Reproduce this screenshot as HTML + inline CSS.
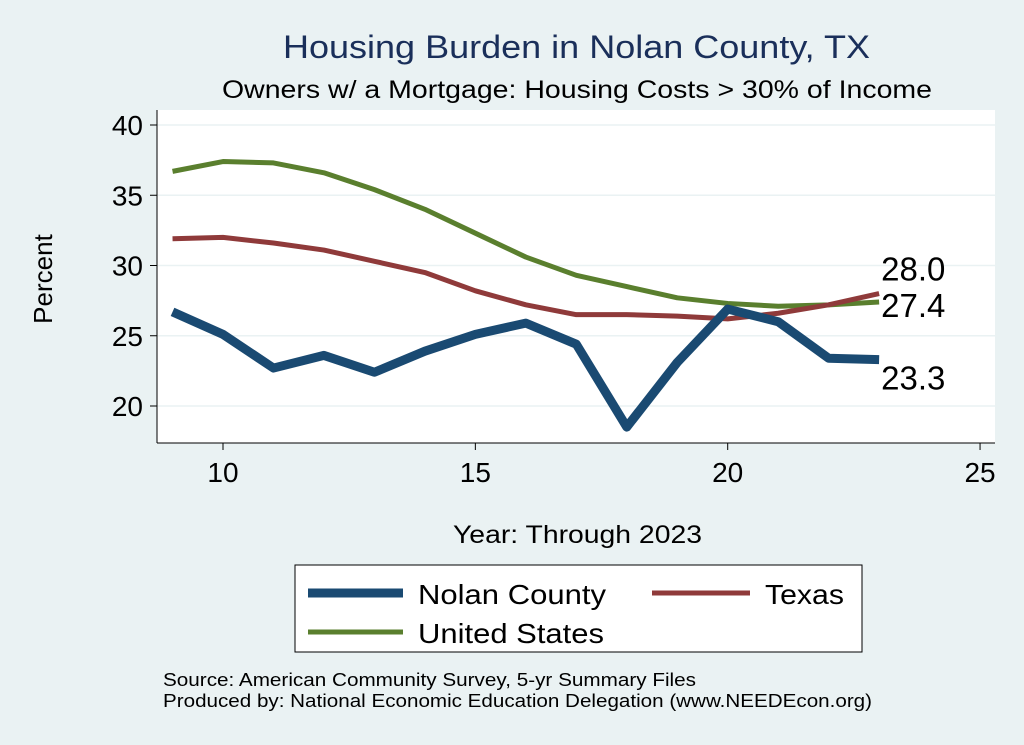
<!DOCTYPE html>
<html><head><meta charset="utf-8"><style>
body{margin:0;background:#eaf2f3;}
svg{display:block;font-family:"Liberation Sans",Arial,sans-serif;}
</style></head><body>
<svg id="chart" width="1024" height="745">
<rect x="0" y="0" width="1024" height="745" fill="#eaf2f3"/>
<text x="283" y="58" font-size="32" fill="#1a2f5a" textLength="587" lengthAdjust="spacingAndGlyphs">Housing Burden in Nolan County, TX</text>
<text x="222" y="98" font-size="25" fill="#000" textLength="710" lengthAdjust="spacingAndGlyphs">Owners w/ a Mortgage: Housing Costs &gt; 30% of Income</text>
<rect x="157" y="110" width="838" height="333" fill="#fff"/>
<g id="grid"></g><g id="axes"></g><g id="series"></g><g id="labels"></g>
<text x="52" y="279" font-size="26" text-anchor="middle" transform="rotate(-90 52 279)">Percent</text>
<text x="453" y="543" font-size="25" textLength="249" lengthAdjust="spacingAndGlyphs">Year: Through 2023</text>
<g>
<rect x="295" y="565" width="567" height="87" fill="#fff" stroke="#000" stroke-width="1"/>
<line x1="308" y1="593" x2="403" y2="593" stroke="#1a4a72" stroke-width="9"/>
<text x="418" y="604" font-size="28" textLength="188" lengthAdjust="spacingAndGlyphs">Nolan County</text>
<line x1="652" y1="593" x2="750" y2="593" stroke="#8f3a3a" stroke-width="5"/>
<text x="765" y="604" font-size="28" textLength="79" lengthAdjust="spacingAndGlyphs">Texas</text>
<line x1="308" y1="632" x2="403" y2="632" stroke="#5a7f2e" stroke-width="5"/>
<text x="418" y="643" font-size="28" textLength="186" lengthAdjust="spacingAndGlyphs">United States</text>
</g>
<text x="163" y="686" font-size="18" textLength="533" lengthAdjust="spacingAndGlyphs">Source: American Community Survey, 5-yr Summary Files</text>
<text x="163" y="707" font-size="18" textLength="709" lengthAdjust="spacingAndGlyphs">Produced by: National Economic Education Delegation (www.NEEDEcon.org)</text>
</svg>
<script>
const years=[9,10,11,12,13,14,15,16,17,18,19,20,21,22,23];
const nolan=[26.7,25.1,22.7,23.6,22.4,23.9,25.1,25.9,24.4,18.5,23.1,26.9,26.0,23.4,23.3];
const texas=[31.9,32.0,31.6,31.1,30.3,29.5,28.2,27.2,26.5,26.5,26.4,26.2,26.6,27.2,28.0];
const us=[36.7,37.4,37.3,36.6,35.4,34.0,32.3,30.6,29.3,28.5,27.7,27.3,27.1,27.2,27.4];
const xTicks=[10,15,20,25];
const yTicks=[20,25,30,35,40];
const NS="http://www.w3.org/2000/svg";
const xs=v=>223+(v-10)*50.47;
const ys=v=>406-(v-20)*14.05;
function mk(tag,attrs,parent){const e=document.createElementNS(NS,tag);for(const k in attrs)e.setAttribute(k,attrs[k]);document.getElementById(parent).appendChild(e);return e;}
yTicks.forEach(t=>{
 let g=mk('line',{x1:157,x2:995,y1:ys(t),y2:ys(t),stroke:'#eaf2f3','stroke-width':1.5},'grid');
 
 
 let tk=mk('line',{x1:150,x2:157,y1:ys(t),y2:ys(t),stroke:'#000'},'axes');
 
 
 let tx=mk('text',{x:143,y:ys(t)+10,'font-size':28,'text-anchor':'end'},'axes');tx.textContent=t;
 
 
});
xTicks.forEach(t=>{
 let tk=mk('line',{x1:xs(t),x2:xs(t),y1:443,y2:450,stroke:'#000'},'axes');
 
 
 let tx=mk('text',{x:xs(t),y:482,'font-size':28,'text-anchor':'middle'},'axes');tx.textContent=t;
 
 
});
let ax=mk('line',{x1:157,x2:157,y1:110,y2:443,stroke:'#000'},'axes');


let bx=mk('line',{x1:157,x2:995,y1:443,y2:443,stroke:'#000'},'axes');


function line(vals,color,w,name){
 const d=vals.map((v,i)=>(i?'L':'M')+xs(years[i])+','+ys(v)).join(' ');
 let p=mk('path',{d:d,fill:'none',stroke:color,'stroke-width':w,'stroke-linejoin':'round'},'series');
 
 
}
line(us,'#5a7f2e',5,'line-united-states');
line(texas,'#8f3a3a',5,'line-texas');
line(nolan,'#1a4a72',9,'line-nolan-county');
const last=years.length-1;
[[texas[last],-13,'label-texas'],[us[last],15,'label-us'],[nolan[last],30,'label-nolan']].forEach(([v,dy,n])=>{
 let t=mk('text',{x:xs(years[last])+2,y:ys(v)+dy,'font-size':33},'labels');t.textContent=v.toFixed(1);
 
 
});
</script>
</body></html>
